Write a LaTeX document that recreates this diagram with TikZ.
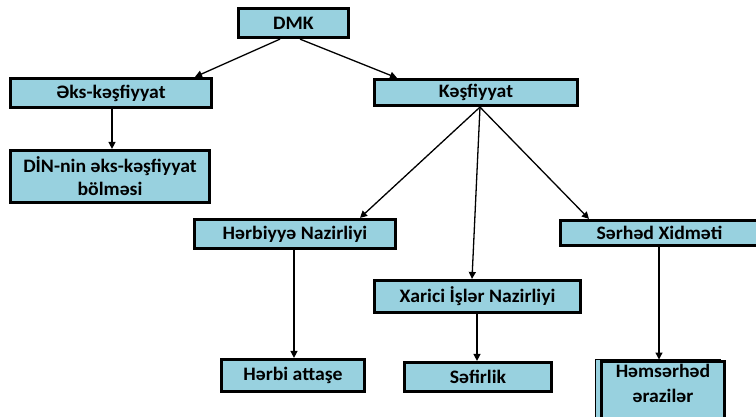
\documentclass[tikz,border=0pt]{standalone}
\usepackage{fontspec}
\setmainfont{Carlito}[FakeStretch=1.04]
\usetikzlibrary{arrows.meta,calc}
\definecolor{boxfill}{RGB}{152,209,223}
\tikzset{
  box/.style={draw=black, fill=boxfill, line width=3.2pt, rectangle, inner sep=0pt,
    font=\bfseries\fontsize{19}{23}\selectfont, align=center},
  conn/.style={draw=black, line width=1.3pt, -{Triangle[length=7pt,width=7pt]}},
  btxt/.style={font=\bfseries\fontsize{19}{25}\selectfont, align=center, inner sep=0pt}
}
\begin{document}
\begin{tikzpicture}[x=1pt,y=-1pt]
\useasboundingbox (0,0) rectangle (756,416);
\node[box, minimum width=110pt, minimum height=29pt] (dmk) at (293.5,23) {DMK};
\node[box, minimum width=201pt, minimum height=29pt] (aks) at (111,93) {Əks-kəşfiyyat};
\node[box, minimum width=199pt, minimum height=52pt] (din) at (110,176.5) {DİN-nin əks-kəşfiyyat\\bölməsi};
\node[box, minimum width=203pt, minimum height=26pt] (kes) at (476,92.5) {Kəşfiyyat};
\node[box, minimum width=201pt, minimum height=29pt] (her) at (295,234) {Hərbiyyə Nazirliyi};
\node[box, minimum width=206pt, minimum height=32pt] (xar) at (477.5,296.5) {Xarici İşlər Nazirliyi};
\node[box, minimum width=198pt, minimum height=25pt] (ser) at (659.5,233) {Sərhəd Xidməti};
\node[box, minimum width=143pt, minimum height=32pt] (hat) at (293,375.5) {Hərbi attaşe};
\node[box, minimum width=147pt, minimum height=29pt] (sef) at (478,377) {Səfirlik};
% Həmsərhəd box (runs past the bottom edge)
\fill[boxfill, draw=black, line width=0.6pt] (595,359.5) rectangle (720,430);
\node[box, minimum width=123pt, minimum height=68pt, anchor=north] (hms) at (663,359.5) {};
\node[btxt] (hmstxt) at ($(hms.north)+(0,23.5)$) {Həmsərhəd\\ərazilər};
% connectors
\draw[conn] ([xshift=-13.5pt]dmk.south) -- ([xshift=84pt]aks.north);
\draw[conn] ([xshift=6.5pt]dmk.south) -- ([xshift=-79pt]kes.north);
\draw[conn] ([xshift=1pt]aks.south) -- ([xshift=2pt]din.north);
\coordinate (kfan) at ([xshift=4pt]kes.south);
\draw[conn] (kfan) -- ([xshift=65pt]her.north);
\draw[conn] (kfan) -- ([xshift=-5.5pt]xar.north);
\draw[conn] (kfan) -- ([xshift=-70.5pt]ser.north);
\draw[conn] ([xshift=-1pt]her.south) -- ([xshift=1pt]hat.north);
\draw[conn] ([xshift=-0.5pt]xar.south) -- ([xshift=-1pt]sef.north);
\draw[conn] ([xshift=-0.5pt]ser.south) -- ([xshift=-4pt]hms.north);
\end{tikzpicture}
\end{document}
